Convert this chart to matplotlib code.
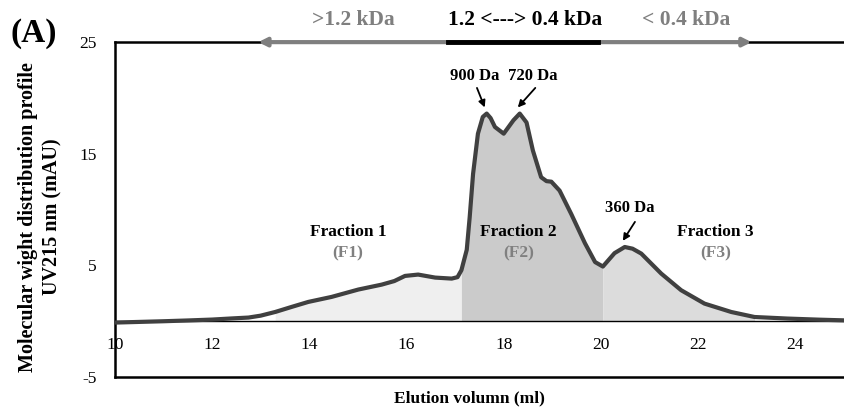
import numpy as np
import matplotlib.pyplot as plt

plt.rcParams['font.family'] = ['Liberation Serif', 'DejaVu Serif']
plt.rcParams['axes.unicode_minus'] = False

# elution profile
vol = [10.0, 10.5, 11.0, 11.5, 12.0, 12.4, 12.75, 13.0, 13.3, 13.65, 13.98, 14.46,
       15.01, 15.49, 15.75, 15.97, 16.24, 16.59, 16.93, 17.05, 17.13, 17.24,
       17.3, 17.37, 17.47, 17.57, 17.65, 17.73, 17.82, 18.0, 18.2, 18.33,
       18.47, 18.6, 18.77, 18.88, 18.98, 19.15, 19.39, 19.67, 19.88, 20.04,
       20.28, 20.49, 20.65, 20.83, 21.24, 21.65, 22.13, 22.68, 23.16, 23.84,
       24.5, 25.0]
uv = [-0.12, -0.06, 0.0, 0.07, 0.15, 0.25, 0.33, 0.5, 0.83, 1.3, 1.73, 2.18,
      2.84, 3.28, 3.6, 4.06, 4.18, 3.91, 3.82, 3.95, 4.57, 6.4,
      9.3, 13.2, 16.8, 18.3, 18.6, 18.2, 17.4, 16.8, 18.0, 18.6,
      17.8, 15.3, 12.9, 12.55, 12.5, 11.7, 9.6, 7.0, 5.3, 4.9,
      6.1, 6.65, 6.5, 6.06, 4.27, 2.78, 1.58, 0.83, 0.38, 0.24,
      0.14, 0.08]
frac_bounds = [13.3, 17.13, 20.04, 23.2]
frac_colors = ['#efefef', '#cbcbcb', '#dcdcdc']
frac_names = ['Fraction 1', 'Fraction 2', 'Fraction 3']
frac_codes = ['(F1)', '(F2)', '(F3)']
frac_pos = [14.8, 18.3, 22.36]
peaks = [('900 Da', 17.65, 18.6), ('720 Da', 18.33, 18.6), ('360 Da', 20.49, 6.65)]
ranges = ['>1.2 kDa', '1.2 <---> 0.4 kDa', '< 0.4 kDa']

vol = np.array(vol)
uv = np.array(uv)

fig = plt.figure(figsize=(8.44, 4.13), dpi=100)
ax = fig.add_axes([0.136, 0.087, 0.864, 0.811])

for i in range(3):
    m = (vol >= frac_bounds[i]) & (vol <= frac_bounds[i + 1])
    ax.fill_between(vol[m], 0, uv[m], color=frac_colors[i], lw=0, zorder=1)
ax.plot(vol, uv, color='#404040', lw=3.0, solid_capstyle='round',
        solid_joinstyle='round', zorder=3)
ax.axhline(0, color='black', lw=1.0, zorder=2)

ax.set_xlim(10, 25)
ax.set_ylim(-5, 25)
ax.set_xticks(range(10, 25, 2))
ax.set_yticks([25, 15, 5, -5])
ax.tick_params(length=0, labelsize=12.5)
ax.tick_params(axis='x', pad=-29)
ax.tick_params(axis='y', pad=13)
for s in ['left', 'top', 'bottom']:
    ax.spines[s].set_linewidth(1.8)
ax.spines['right'].set_visible(False)

ax.set_xlabel('Elution volumn (ml)', fontsize=12.5, fontweight='bold')
ax.set_ylabel('Molecular wight distribution profile\nUV215 nm (mAU)',
              fontsize=14.5, fontweight='bold', linespacing=1.3)
ax.xaxis.set_label_coords(0.487, -0.04)
ax.yaxis.set_label_coords(-0.072, 0.478)

# fraction labels
for name, code, xp in zip(frac_names, frac_codes, frac_pos):
    ax.text(xp, 8.0, name, ha='center', va='center', fontsize=12.5, fontweight='bold')
    ax.text(xp, 6.1, code, ha='center', va='center', fontsize=12.5,
            fontweight='bold', color='#808080')

# peak annotations: (label x, label y, arrow start x, arrow start y)
label_at = [(17.4, 22.0), (18.6, 22.0), (20.6, 10.1)]
arrow_from = [(17.45, 20.9), (18.65, 20.9), (20.7, 8.9)]
for (lab, xp, yp), (lx, ly), (ax0, ay0) in zip(peaks, label_at, arrow_from):
    ax.text(lx, ly, lab, ha='center', va='center', fontsize=12, fontweight='bold')
    ax.annotate('', xy=(xp - 0.04, yp + 0.55), xytext=(ax0, ay0),
                arrowprops=dict(arrowstyle='-|>', color='black', lw=1.3,
                                mutation_scale=10, shrinkA=0, shrinkB=0))

# molecular weight range arrows on top
ax.annotate('', xy=(12.95, 25), xytext=(23.1, 25), annotation_clip=False,
            arrowprops=dict(arrowstyle='<|-|>', color='#7f7f7f', lw=3,
                            mutation_scale=12, shrinkA=0, shrinkB=0))
ax.plot([16.86, 19.95], [25, 25], color='black', lw=3.5, clip_on=False, zorder=5)
ax.text(14.9, 27.0, ranges[0], ha='center', va='center', fontsize=15.5,
        fontweight='bold', color='#7f7f7f')
ax.text(18.45, 27.0, ranges[1], ha='center', va='center', fontsize=15.5,
        fontweight='bold', color='black')
ax.text(21.75, 27.0, ranges[2], ha='center', va='center', fontsize=15.5,
        fontweight='bold', color='#7f7f7f')

fig.text(0.012, 0.92, '(A)', fontsize=24, fontweight='bold', va='center')

fig.savefig('out.png', dpi=100)
